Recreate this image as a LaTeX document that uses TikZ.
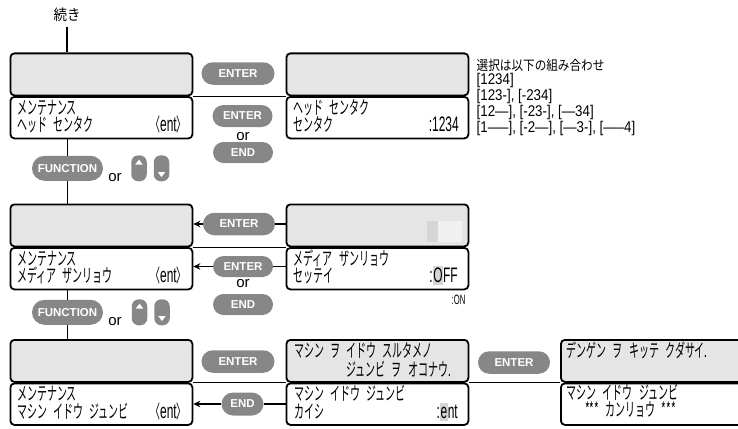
\documentclass[tikz,border=0pt]{standalone}
\usepackage{fontspec}
\usetikzlibrary{shapes.misc,arrows.meta,calc}
\setmainfont{Liberation Sans}
\newfontfamily\jpf[FakeStretch=0.54,WordSpace=2.8]{Noto Sans CJK JP}
\newfontfamily\latf[FakeStretch=0.57]{Liberation Sans}
\newfontfamily\annjpf[FakeStretch=0.86]{Noto Sans CJK JP}
\newfontfamily\annlatf[FakeStretch=0.86]{Liberation Sans}
\newfontfamily\topjpf[FakeStretch=0.9]{Noto Sans CJK JP}
\newcommand\lcd{\jpf\fontsize{18.5}{18.5}\selectfont}
\newcommand\la[1]{{\latf\fontsize{21}{21}\selectfont #1}}
\newcommand\entx{〈\la{ent}〉}
\definecolor{scr}{gray}{0.90}
\definecolor{btn}{gray}{0.53}
\definecolor{hl}{gray}{0.84}
\definecolor{hlb}{gray}{0.94}
\newcommand\hlc[1]{{\setlength\fboxsep{0.6pt}\colorbox{hl}{\rule[-2pt]{0pt}{17pt}#1}}}
\tikzset{
  topscr/.style={draw, line width=1.8pt, rounded corners=4pt, fill=scr, minimum width=182pt, minimum height=42pt, inner sep=0pt, anchor=north west},
  botscr/.style={draw, line width=1.8pt, rounded corners=4pt, fill=white, minimum width=182pt, minimum height=41.5pt, inner sep=0pt, anchor=north west},
  btn/.style={rounded rectangle, fill=btn, text=white, font=\bfseries\fontsize{11.5}{11.5}\selectfont, inner sep=0pt, minimum height=22.5pt},
  conn/.style={line width=1.1pt},
  arr/.style={conn, -{Stealth[length=7pt,width=6.5pt]}},
  lcdt/.style={anchor=base west, inner sep=0pt, font=\lcd},
  lcdr/.style={anchor=base east, inner sep=0pt, font=\lcd},
  ortxt/.style={anchor=base, inner sep=0pt, font=\fontsize{15}{15}\selectfont},
  keybtn/.style={rounded corners=7pt, fill=btn, minimum width=15.5pt, minimum height=26pt, inner sep=0pt},
  ann/.style={anchor=base west, inner sep=0pt, font=\annlatf\fontsize{15.5}{15.5}\selectfont},
}
\begin{document}
\begin{tikzpicture}[x=1pt,y=-1pt]
\useasboundingbox (0,0) rectangle (738,428);
\begin{scope}
\clip (0,0) rectangle (738,428);
% screens
\node[topscr] (s1t) at (9.5,52.5) {};
\node[botscr] (s1b) at (9.5,96) {};
\node[topscr] (s2t) at (285.5,52.5) {};
\node[botscr] (s2b) at (285.5,96) {};
\node[topscr] (s3t) at (9.5,203.5) {};
\node[botscr] (s3b) at (9.5,247) {};
\node[topscr] (s4t) at (285.5,203.5) {};
\node[botscr] (s4b) at (285.5,247) {};
\node[topscr] (s5t) at (9.5,339) {};
\node[botscr] (s5b) at (9.5,382.5) {};
\node[topscr] (s6t) at (285.5,339) {};
\node[botscr] (s6b) at (285.5,382.5) {};
\node[topscr, minimum width=200pt] (s7t) at (560,339) {};
\node[botscr, minimum width=200pt] (s7b) at (560,382.5) {};
% cursor blocks
\fill[hl] (427,221) rectangle (438,242);
\fill[hlb] (438,221) rectangle (462,242);
% screen texts
\node[lcdt] (t1a) at (17,114) {メンテナンス};
\node[lcdt] (t1b) at (17,131) {ヘッド センタク};
\node[lcdr] (t1c) at (187,131) {\entx};
\node[lcdt] (t2a) at (293.5,114) {ヘッド センタク};
\node[lcdt] (t2b) at (293.5,131) {センタク};
\node[lcdr] (t2c) at (459,131) {\la{:1234}};
\node[lcdt] (t3a) at (17,265) {メンテナンス};
\node[lcdt] (t3b) at (17,282) {メディア ザンリョウ};
\node[lcdr] (t3c) at (187,282) {\entx};
\node[lcdt] (t4a) at (293.5,265) {メディア ザンリョウ};
\node[lcdt] (t4b) at (293.5,282) {セッテイ};
\node[lcdr] (t4c) at (458,282) {\la{:\hlc{O}FF}};
\node[anchor=base east, inner sep=0pt, font=\latf\fontsize{13.5}{13.5}\selectfont] (on) at (465.5,304) {:ON};
\node[lcdt] (t5a) at (17,400.5) {メンテナンス};
\node[lcdt] (t5b) at (17,418.5) {マシン イドウ ジュンビ};
\node[lcdr] (t5c) at (187,418.5) {\entx};
\node[lcdt] (t6a) at (294,357) {マシン ヲ イドウ スルタメノ};
\node[lcdr] (t6b) at (451,376) {ジュンビ ヲ オコナウ.};
\node[lcdt] (t6c) at (294,400.5) {マシン イドウ ジュンビ};
\node[lcdt] (t6d) at (294,418.5) {カイシ};
\node[lcdr] (t6e) at (458,418.5) {\la{:\hlc{e}nt}};
\node[lcdt] (t7a) at (566.5,357) {デンゲン ヲ キッテ クダサイ.};
\node[lcdt] (t7b) at (566.5,399) {マシン イドウ ジュンビ};
\node[lcdt] (t7c) at (585,416) {*** カンリョウ ***};
% buttons
\node[btn, minimum width=73pt] (e1) at (238,73.5) {ENTER};
\node[btn, minimum width=60pt, minimum height=22pt] (e2) at (242.5,116) {ENTER};
\node[ortxt] (o1) at (243,140) {or};
\node[btn, minimum width=60pt, minimum height=21pt] (n1) at (243,152.5) {END};
\node[btn, minimum width=71pt, minimum height=25pt] (f1) at (67.5,168.3) {FUNCTION};
\node[ortxt] (o2) at (115,181) {or};
\node[keybtn] (u1) at (139,168.3) {};
\node[keybtn] (d1) at (161.5,168.3) {};
\node[btn, minimum width=72pt] (e3) at (239,224) {ENTER};
\node[btn, minimum width=60pt, minimum height=21pt] (e4) at (243,266.5) {ENTER};
\node[ortxt] (o3) at (243,287.5) {or};
\node[btn, minimum width=60pt, minimum height=21pt] (n2) at (243,304.5) {END};
\node[btn, minimum width=71pt, minimum height=25pt] (f2) at (67.5,312.3) {FUNCTION};
\node[ortxt] (o4) at (115,325) {or};
\node[keybtn] (u2) at (139.5,312.3) {};
\node[keybtn] (d2) at (162,312.3) {};
\node[btn, minimum width=73pt] (e5) at (238,361.5) {ENTER};
\node[btn, minimum width=42pt, minimum height=23pt] (n3) at (242.5,404) {END};
\node[btn, minimum width=72pt] (e6) at (514,362.5) {ENTER};
% key triangles
\foreach \k in {u1,u2}{
  \fill[white] ($(\k.north)+(0,4.5)$) -- ($(\k.north)+(-3.8,9.5)$) -- ($(\k.north)+(3.8,9.5)$) -- cycle;
}
\foreach \k in {d1,d2}{
  \fill[white] ($(\k.south)+(0,-4.5)$) -- ($(\k.south)+(-3.8,-9.5)$) -- ($(\k.south)+(3.8,-9.5)$) -- cycle;
}
% top label
\node[inner sep=0pt, font=\topjpf\fontsize{15}{15}\selectfont] (top) at (67,15) {続き};
% connectors
\draw[conn] ([yshift=-5pt]top.south) -- (top.south |- s1t.north);
\draw[conn] (f1.north |- s1b.south) -- (f1.north);
\draw[conn] (f1.south) -- (f1.south |- s3t.north);
\draw[conn] (f2.north |- s3b.south) -- (f2.north);
\draw[conn] (f2.south) -- (f2.south |- s5t.north);
\draw[conn] ($(s1t.south east)!0.5!(s1b.north east)$) -- ($(s2t.south west)!0.5!(s2b.north west)$);
\draw[conn] ($(s3t.south east)!0.5!(s3b.north east)$) -- ($(s4t.south west)!0.5!(s4b.north west)$);
\draw[conn] ($(s5t.south east)!0.5!(s5b.north east)$) -- ($(s6t.south west)!0.5!(s6b.north west)$);
\draw[conn] ($(s6t.south east)!0.5!(s6b.north east)$) -- ($(s7t.south west)!0.5!(s7b.north west)$);
\draw[arr] (e3.west) -- (e3.west -| s3t.east);
\draw[conn] (e3.east -| s4t.west) -- (e3.east);
\draw[arr] (e4.west) -- (e4.west -| s3b.east);
\draw[conn] (e4.east -| s4b.west) -- (e4.east);
\draw[arr] (n3.west) -- (n3.west -| s5b.east);
\draw[conn] (n3.east -| s6b.west) -- (n3.east);
% annotation
\node[anchor=base west, inner sep=0pt, font=\annjpf\fontsize{13.5}{13.5}\selectfont] (a0) at (476.5,70.5) {選択は以下の組み合わせ};
\node[ann] (a1) at (476.5,84.5) {[1234]};
\node[ann] (a2) at (476.5,100.5) {[123-], [-234]};
\node[ann] (a3) at (476.5,116.5) {[12—], [-23-], [—34]};
\node[ann] (a4) at (476.5,132.5) {[1—–], [-2—], [—3-], [—–4]};
\end{scope}
\end{tikzpicture}
\end{document}
